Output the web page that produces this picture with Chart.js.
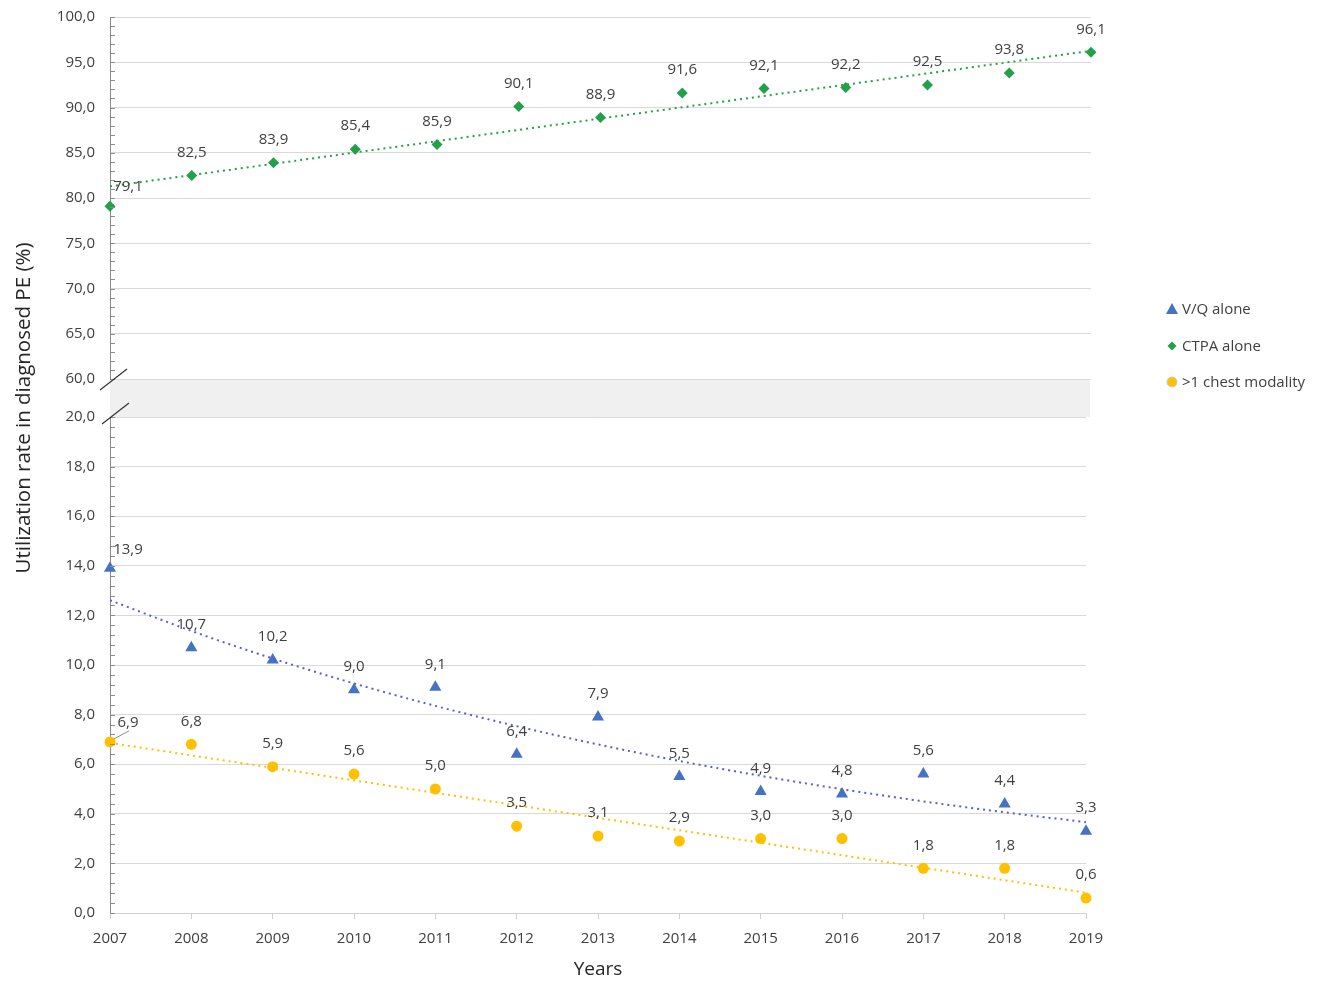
<!DOCTYPE html>
<html>
<head>
<meta charset="utf-8">
<script src="https://cdn.jsdelivr.net/npm/chart.js@4/dist/chart.umd.min.js"></script>
<style>
    body { margin: 0; background: #fff; }
    #pagina { position: relative; width: 1320px; height: 981px; font-family: "Open Sans", sans-serif; color: #404040; }
    .caja { position: absolute; left: 0; width: 1320px; }
    #cajaArriba { top: 0; height: 400px; }
    #cajaAbajo { top: 395px; height: 586px; }
    #banda { position: absolute; left: 110px; top: 379px; width: 980px; height: 38px; background: #f0f0f0; }
    #cortes { position: absolute; left: 0; top: 0; width: 1320px; height: 981px; pointer-events: none; }
    #tituloY { position: absolute; left: 22px; top: 408px; transform: translate(-50%, -50%) rotate(-90deg); white-space: nowrap; font-size: 20.5px; color: #262626; }
    #leyenda { position: absolute; left: 1164px; top: 298px; font-size: 15px; color: #404040; }
    #leyenda div { height: 36.5px; display: flex; align-items: flex-start; }
    #leyenda svg { width: 16px; height: 22px; margin-right: 2px; }
</style>
</head>
<body>
<div id="pagina">
    <div id="banda"></div>
    <div class="caja" id="cajaArriba"><canvas id="arriba"></canvas></div>
    <div class="caja" id="cajaAbajo"><canvas id="abajo"></canvas></div>
    <svg id="cortes">
        <line x1="100" y1="390" x2="127" y2="369" stroke="#333" stroke-width="1.2"/>
        <line x1="102" y1="424" x2="129" y2="403" stroke="#333" stroke-width="1.2"/>
    </svg>
    <div id="tituloY">Utilization rate in diagnosed PE (%)</div>
    <div id="leyenda">
        <div><svg viewBox="0 0 16 22"><polygon points="8,5 14,16 2,16" fill="#4472c4"/></svg>V/Q alone</div>
        <div><svg viewBox="0 0 16 22"><polygon points="8,6.5 12.5,11 8,15.5 3.5,11" fill="#22a04a"/></svg>CTPA alone</div>
        <div><svg viewBox="0 0 16 22"><circle cx="8" cy="11" r="5" fill="#ffc000" stroke="#c9c9c9" stroke-width="1"/></svg>&gt;1 chest modality</div>
    </div>
</div>
<script>
const anios = [2007, 2008, 2009, 2010, 2011, 2012, 2013, 2014, 2015, 2016, 2017, 2018, 2019];
const vqSolo = [13.9, 10.7, 10.2, 9.0, 9.1, 6.4, 7.9, 5.5, 4.9, 4.8, 5.6, 4.4, 3.3];
const ctpaSolo = [79.1, 82.5, 83.9, 85.4, 85.9, 90.1, 88.9, 91.6, 92.1, 92.2, 92.5, 93.8, 96.1];
const masDeUna = [6.9, 6.8, 5.9, 5.6, 5.0, 3.5, 3.1, 2.9, 3.0, 3.0, 1.8, 1.8, 0.6];

const verde = "#22a04a";
const azul = "#4472c4";
const naranja = "#ffc000";

Chart.defaults.font.family = "'Open Sans', sans-serif";
Chart.defaults.color = "#404040";

function formato(v) {
    return v.toFixed(1).replace(".", ",");
}

function puntos(valores) {
    return anios.map((x, i) => ({ x: x, y: valores[i] }));
}

// lineas de tendencia como las de Excel (lineal y exponencial)
function tendenciaLineal(valores) {
    const n = valores.length;
    const mx = anios.reduce((a, b) => a + b, 0) / n;
    const my = valores.reduce((a, b) => a + b, 0) / n;
    let sxy = 0, sxx = 0;
    anios.forEach((x, i) => { sxy += (x - mx) * (valores[i] - my); sxx += (x - mx) ** 2; });
    const m = sxy / sxx;
    return anios.map((x) => ({ x: x, y: my + m * (x - mx) }));
}

function tendenciaExp(valores) {
    const logs = valores.map((v) => Math.log(v));
    return tendenciaLineal(logs).map((p) => ({ x: p.x, y: Math.exp(p.y) }));
}

const etiquetas = {
    id: "etiquetas",
    afterDatasetsDraw(chart) {
        const ctx = chart.ctx;
        ctx.save();
        ctx.font = "15px 'Open Sans'";
        ctx.fillStyle = "#404040";
        ctx.textAlign = "center";
        ctx.textBaseline = "middle";
        chart.data.datasets.forEach((ds, d) => {
            if (!ds.etiquetas) return;
            const meta = chart.getDatasetMeta(d);
            meta.data.forEach((p, i) => {
                let dx = 0, dy = -23;
                if (i === 0) { dx = 18; dy = -19; }
                ctx.fillText(formato(ds.data[i].y), p.x + dx, p.y + dy);
                if (i === 0 && ds.guia) {
                    ctx.strokeStyle = "#8c8c8c";
                    ctx.lineWidth = 1;
                    ctx.beginPath();
                    ctx.moveTo(p.x + 4, p.y - 3);
                    ctx.lineTo(p.x + 19, p.y - 11);
                    ctx.stroke();
                }
            });
        });
        ctx.restore();
    }
};

const marcasMenores = {
    id: "marcasMenores",
    afterDraw(chart, args, opts) {
        const y = chart.scales.y;
        const ctx = chart.ctx;
        ctx.save();
        ctx.strokeStyle = "#8c8c8c";
        ctx.lineWidth = 1;
        ctx.beginPath();
        for (let v = y.min; v <= y.max + 1e-9; v += opts.paso) {
            const py = Math.round(y.getPixelForValue(v)) + 0.5;
            ctx.moveTo(y.right, py);
            ctx.lineTo(y.right + 5, py);
        }
        ctx.stroke();
        ctx.restore();
    }
};

function ejeY(min, max, paso) {
    return {
        min: min,
        max: max,
        afterFit: (s) => { s.width = 110; s.paddingTop = 0; s.paddingBottom = 0; },
        ticks: { stepSize: paso, padding: 15, color: "#404040", font: { size: 15 }, callback: (v) => formato(v) },
        grid: { color: "#d9d9d9", drawTicks: false },
        border: { color: "#8c8c8c" }
    };
}

function serie(etiqueta, valores, color, estilo, radio, extra) {
    return Object.assign({
        label: etiqueta,
        data: puntos(valores),
        showLine: false,
        pointStyle: estilo,
        pointRadius: radio,
        backgroundColor: color,
        borderColor: color,
        pointBorderWidth: 0,
        clip: false,
        etiquetas: true
    }, extra || {});
}

function tendencia(datos, color) {
    return {
        data: datos,
        showLine: true,
        pointRadius: 0,
        borderColor: color,
        borderWidth: 2,
        borderDash: [2, 4],
        cubicInterpolationMode: "monotone",
        clip: false
    };
}

const opcionesBase = {
    responsive: true,
    maintainAspectRatio: false,
    animation: false,
    plugins: { legend: { display: false }, tooltip: { enabled: false } }
};

new Chart(document.querySelector("#arriba"), {
    type: "scatter",
    data: {
        datasets: [
            tendencia(tendenciaLineal(ctpaSolo), verde),
            serie("CTPA alone", ctpaSolo, verde, "rectRot", 5.5)
        ]
    },
    options: Object.assign({}, opcionesBase, {
        layout: { padding: { left: 0, right: 229, top: 17, bottom: 21 } },
        plugins: Object.assign({}, opcionesBase.plugins, { marcasMenores: { paso: 1 } }),
        scales: {
            x: { type: "linear", min: 2007, max: 2019, display: false },
            y: ejeY(60, 100, 5)
        }
    }),
    plugins: [etiquetas, marcasMenores]
});

new Chart(document.querySelector("#abajo"), {
    type: "scatter",
    data: {
        datasets: [
            tendencia(tendenciaExp(vqSolo), "#5860c8"),
            tendencia(tendenciaLineal(masDeUna), naranja),
            serie("V/Q alone", vqSolo, azul, "triangle", 7),
            serie(">1 chest modality", masDeUna, naranja, "circle", 5.5, { guia: true })
        ]
    },
    options: Object.assign({}, opcionesBase, {
        layout: { padding: { left: 0, right: 234, top: 22, bottom: 0 } },
        plugins: Object.assign({}, opcionesBase.plugins, { marcasMenores: { paso: 0.4 } }),
        scales: {
            x: {
                type: "linear",
                min: 2007,
                max: 2019,
                afterFit: (s) => { s.height = 68; },
                ticks: { stepSize: 1, padding: 11, color: "#404040", font: { size: 15 }, callback: (v) => String(v) },
                grid: { drawOnChartArea: false, color: "#d0d0d0", tickLength: 6 },
                border: { color: "#d0d0d0" },
                title: { display: true, text: "Years", color: "#262626", font: { size: 19 }, padding: 0 }
            },
            y: ejeY(0, 20, 2)
        }
    }),
    plugins: [etiquetas, marcasMenores]
});
</script>
</body>
</html>
